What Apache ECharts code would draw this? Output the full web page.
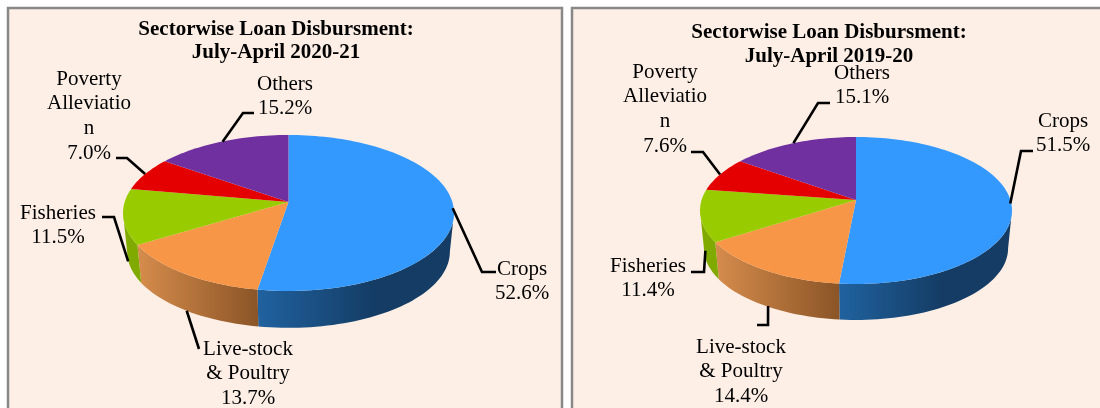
<!DOCTYPE html>
<html>
<head>
<meta charset="utf-8">
<title>Sectorwise Loan Disbursment</title>
<script src="https://cdn.jsdelivr.net/npm/echarts@6/dist/echarts.min.js"></script>
<style>
  html, body { margin: 0; padding: 0; background: #fff; }
  #chart { width: 1100px; height: 408px; }
</style>
</head>
<body>
<div id="chart"></div>
<script>
// values
var categories = ['Crops', 'Live-stock\n& Poultry', 'Fisheries', 'Poverty\nAlleviatio\nn', 'Others'];
var values2021 = [52.6, 13.7, 11.5, 7.0, 15.2];
var values1920 = [51.5, 14.4, 11.4, 7.6, 15.1];
var titles = ['Sectorwise Loan Disbursment:\nJuly-April 2020-21', 'Sectorwise Loan Disbursment:\nJuly-April 2019-20'];

var topColors = ['#3399ff', '#f79646', '#99cc00', '#e40000', '#7030a0'];
// side wall gradient: start colour, end colour, share of the slice width it takes
var wallColors = [
  ['#20629f', '#143c64', 0.6],
  ['#d68c4c', '#8b5527', 1],
  ['#80aa00', '#80aa00', 1],
  ['#a00000', '#a00000', 1],
  ['#50207a', '#50207a', 1]
];
var font = '21px "Liberation Serif", "Times New Roman", serif';

// label and leader placement for each pie, same order as categories
var pies = [
  {
    values: values2021, cx: 288.5, cy: 213, rx: 165.5, ry: 78, apex: 11, depth: 37,
    labels: [[522, 257], [248, 337], [58, 201], [89, 67], [285, 72]],
    nudge: [[-1, 0], [2, 0], [5, 45], [0, 0], [1, 0]],
    bends: [
      [[482, 272], [496, 272]],
      [[199, 349]],
      [[114, 217], [102, 217]],
      [[127, 158], [116, 158]],
      [[243, 113], [254, 113]]
    ]
  },
  {
    values: values1920, cx: 856, cy: 210.5, rx: 156, ry: 73.5, apex: 10.5, depth: 36,
    labels: [[1063, 109], [741, 335], [648, 254], [665, 60], [862, 61]],
    nudge: [[-1, 0], [3.5, 0], [5, 35], [0, 0], [0, 0]],
    bends: [
      [[1021, 151], [1033, 151]],
      [[768, 325], [757, 325]],
      [[704, 272], [691, 272]],
      [[703, 152], [691, 152]],
      [[818, 103], [830, 103]]
    ]
  }
];

// pie is tilted, so the circle is projected: centre lands above the middle of the ellipse
function project(pie, pct, scale, drop) {
  var a = pct / 100 * Math.PI * 2;
  var u = Math.sin(a), v = -Math.cos(a);
  var k = pie.apex / pie.ry;
  var w = 1 - k * v;
  return [
    pie.cx + scale * pie.rx * Math.sqrt(1 - k * k) * u / w,
    pie.cy + drop + scale * pie.ry * (v - k) / w
  ];
}

function arc(pie, from, to, scale, drop) {
  var pts = [];
  var steps = Math.max(2, Math.ceil((to - from) * 2));
  for (var i = 0; i <= steps; i++) {
    pts.push(project(pie, from + (to - from) * i / steps, scale, drop));
  }
  return pts;
}

function cumulative(values, index) {
  var sum = 0;
  for (var i = 0; i < index; i++) sum += values[i];
  return sum;
}

function renderWall(pie) {
  // only the front of the rim shows, between the widest points of the ellipse
  var edge = Math.acos(-pie.apex / pie.ry) / (Math.PI * 2) * 100;
  return function (params, api) {
    var i = params.dataIndex;
    var start = cumulative(pie.values, i);
    var from = Math.max(start, edge);
    var to = Math.min(start + api.value(0), 100 - edge);
    if (to <= from) return null;
    var upper = arc(pie, from, to, 1, 0);
    var lower = arc(pie, from, to, 0.975, pie.depth + 1.8).reverse();
    var x0 = project(pie, from, 1, 0)[0];
    var x1 = project(pie, to, 1, 0)[0];
    var c = wallColors[i];
    var left = Math.min(x0, x1);
    var right = left + (Math.max(x0, x1) - left) * c[2];
    return {
      type: 'polygon',
      shape: { points: upper.concat(lower) },
      style: {
        fill: {
          type: 'linear', global: true, x: left, y: 0, x2: right, y2: 0,
          colorStops: [{ offset: 0, color: c[0] }, { offset: 1, color: c[1] }]
        }
      }
    };
  };
}

function renderTop(pie) {
  return function (params, api) {
    var i = params.dataIndex;
    var from = cumulative(pie.values, i);
    var to = from + api.value(0);
    var pts = arc(pie, from, to, 1, 0);
    pts.push([pie.cx, pie.cy - pie.apex]);
    return {
      type: 'polygon',
      shape: { points: pts },
      style: { fill: topColors[i] }
    };
  };
}

function renderLabel(pie) {
  return function (params, api) {
    var i = params.dataIndex;
    var val = api.value(0);
    var start = project(pie, cumulative(pie.values, i) + val / 2, 1, i === 1 ? pie.depth : 0);
    start = [start[0] + pie.nudge[i][0], start[1] + pie.nudge[i][1]];
    return {
      type: 'group',
      children: [
        {
          type: 'polyline',
          shape: { points: [start].concat(pie.bends[i]) },
          style: { stroke: '#000', lineWidth: 2.6, fill: null }
        },
        {
          type: 'text',
          style: {
            text: categories[i] + '\n' + val.toFixed(1) + '%',
            x: pie.labels[i][0],
            y: pie.labels[i][1],
            align: 'center',
            verticalAlign: 'top',
            font: font,
            lineHeight: 24.6,
            fill: '#000'
          }
        }
      ]
    };
  };
}

var series = [];
pies.forEach(function (pie) {
  var data = pie.values.map(function (v, i) { return { name: categories[i], value: [v] }; });
  series.push({ type: 'custom', coordinateSystem: 'none', z: 2, data: data, renderItem: renderWall(pie) });
  series.push({ type: 'custom', coordinateSystem: 'none', z: 3, data: data, renderItem: renderTop(pie) });
  series.push({ type: 'custom', coordinateSystem: 'none', z: 4, data: data, renderItem: renderLabel(pie) });
});

var chart = echarts.init(document.getElementById('chart'), null, { renderer: 'canvas' });
chart.setOption({
  animation: false,
  backgroundColor: '#fff',
  title: [
    { text: titles[0], left: 271, top: 13, textAlign: 'center', textStyle: { fontFamily: 'Liberation Serif', fontWeight: 'bold', fontSize: 21, lineHeight: 23, color: '#000' } },
    { text: titles[1], left: 824, top: 16, textAlign: 'center', textStyle: { fontFamily: 'Liberation Serif', fontWeight: 'bold', fontSize: 21, lineHeight: 24, color: '#000' } }
  ],
  graphic: [
    { type: 'rect', z: -1, shape: { x: 8, y: 8, width: 554, height: 420 }, style: { fill: '#fdefe6', stroke: '#888', lineWidth: 2.5 } },
    { type: 'rect', z: -1, shape: { x: 572, y: 8, width: 600, height: 420 }, style: { fill: '#fdefe6', stroke: '#888', lineWidth: 2.5 } }
  ],
  series: series
});
</script>
</body>
</html>
